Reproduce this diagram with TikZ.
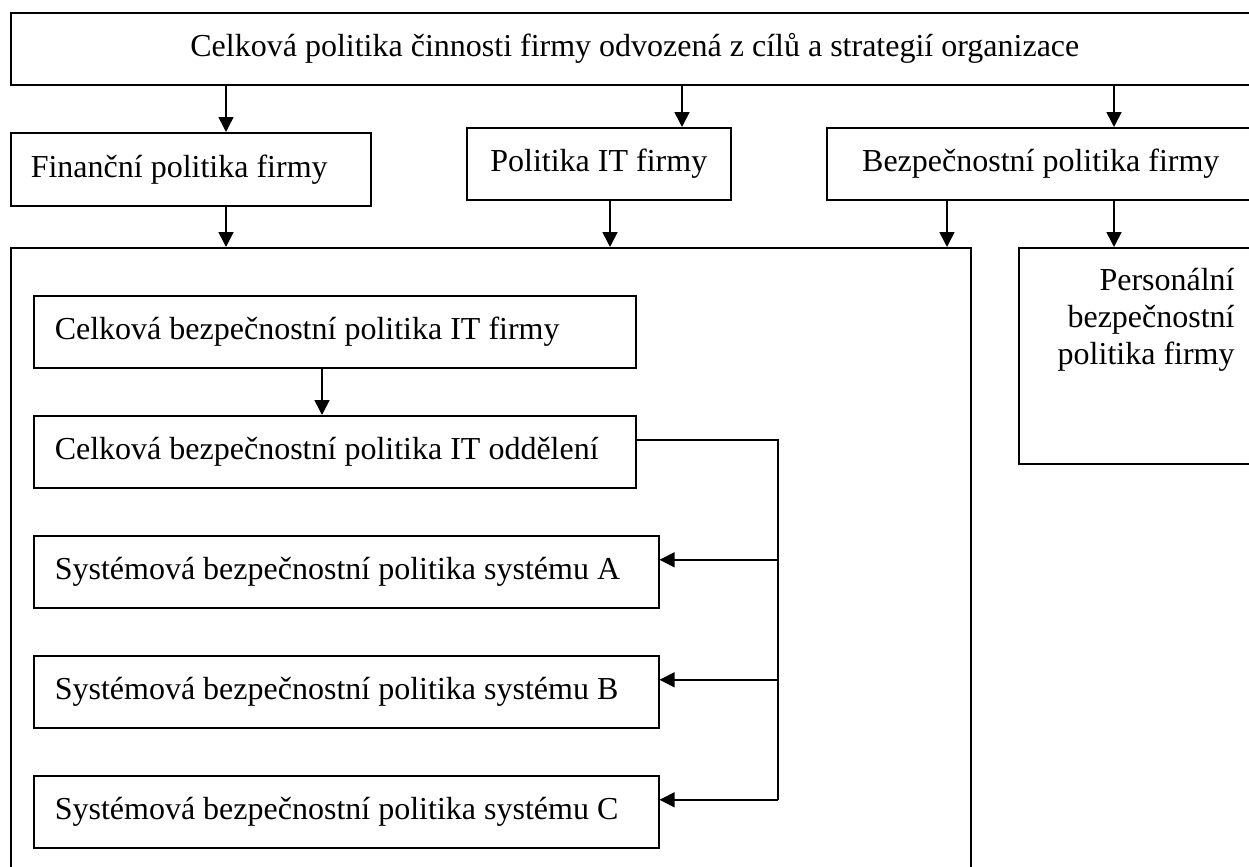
\documentclass[tikz,border=0pt]{standalone}
\usepackage{fontspec}
\setmainfont{Liberation Serif}
\usetikzlibrary{arrows.meta,calc}
\begin{document}
\begin{tikzpicture}[x=0.5pt,y=-0.5pt,
  box/.style={draw,line width=0.8pt,inner sep=0pt,anchor=north west,font=\fontsize{16}{18.5}\selectfont},
  inbox/.style={box,minimum height=36pt,inner xsep=10.5pt},
  arr/.style={line width=0.8pt,-{Triangle[length=7.5pt,width=7.5pt]}},
  conn/.style={line width=0.8pt}]
\useasboundingbox (0,0) rectangle (1249,867);
\clip (0,0) rectangle (1249,867);
% top level
\node[box,minimum width=624pt,minimum height=36pt] (top) at (10,12)
  {Celková politika činnosti firmy odvozená z cílů a strategií organizace};
% second row
\node[box,minimum height=36.5pt,inner xsep=10pt] (fin) at (10,132)
  {\makebox[160pt][l]{Finanční politika firmy}};
\node[box,minimum width=132pt,minimum height=36pt] (pit) at (466,127) {Politika IT firmy};
\node[box,minimum width=214pt,minimum height=36pt] (bez) at (826,127) {Bezpečnostní politika firmy};
% containers
\node[box,minimum width=480pt,minimum height=320pt] (big) at (10,247) {};
\node[box,minimum width=119pt,minimum height=108pt] (pers) at (1018,247) {};
\node[anchor=north east,align=right,inner sep=0pt,font=\fontsize{16}{18.5}\selectfont] (perst) at (1235,268)
  {Personální\\bezpečnostní\\politika firmy};
% inner boxes
\node[inbox] (c1) at (33,295) {\makebox[280pt][l]{Celková bezpečnostní politika IT firmy}};
\node[inbox] (c2) at (33,415) {\makebox[280pt][l]{Celková bezpečnostní politika IT oddělení}};
\node[inbox] (sA) at (33,535) {\makebox[291.5pt][l]{Systémová bezpečnostní politika systému A}};
\node[inbox] (sB) at (33,655) {\makebox[291.5pt][l]{Systémová bezpečnostní politika systému B}};
\node[inbox] (sC) at (33,775) {\makebox[291.5pt][l]{Systémová bezpečnostní politika systému C}};
% helper x positions
\coordinate (x1) at (226,0);
\coordinate (x2) at (682,0);
\coordinate (x3) at (1114,0);
\coordinate (x4) at (610,0);
\coordinate (x5) at (947,0);
\coordinate (x6) at (322,0);
\coordinate (bus) at (778,0);
% arrows
\draw[arr] (x1 |- top.south) -- (x1 |- fin.north);
\draw[arr] (x2 |- top.south) -- (x2 |- pit.north);
\draw[arr] (x3 |- top.south) -- (x3 |- bez.north);
\draw[arr] (x1 |- fin.south) -- (x1 |- big.north);
\draw[arr] (x4 |- pit.south) -- (x4 |- big.north);
\draw[arr] (x5 |- bez.south) -- (x5 |- big.north);
\draw[arr] (x3 |- bez.south) -- (x3 |- pers.north);
\draw[arr] (x6 |- c1.south) -- (x6 |- c2.north);
% bus connector
\coordinate (p2) at ([yshift=6pt]c2.east);
\coordinate (pA) at ([yshift=6pt]sA.east);
\coordinate (pB) at ([yshift=6pt]sB.east);
\coordinate (pC) at ([yshift=6pt]sC.east);
\draw[conn] (p2) -- (p2 -| bus) -- (pC -| bus);
\draw[arr] (pA -| bus) -- (pA);
\draw[arr] (pB -| bus) -- (pB);
\draw[arr] (pC -| bus) -- (pC);
\end{tikzpicture}
\end{document}
